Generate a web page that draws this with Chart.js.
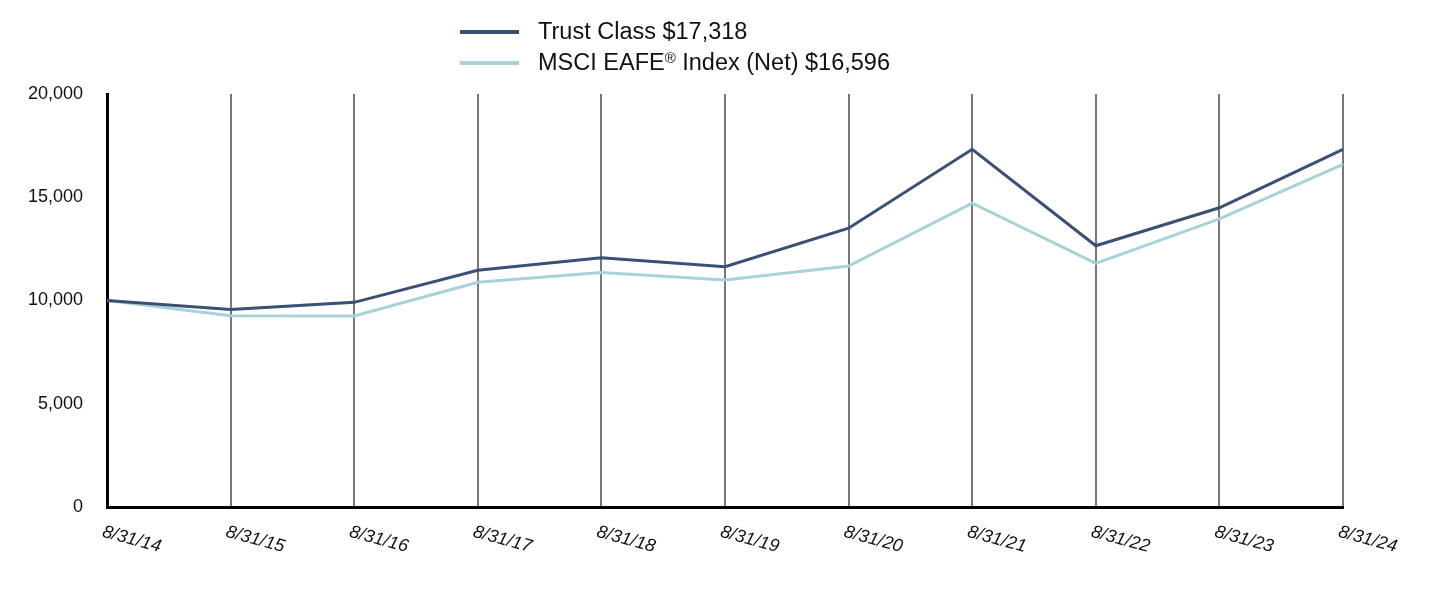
<!DOCTYPE html>
<html>
<head>
<meta charset="utf-8">
<script src="https://cdn.jsdelivr.net/npm/chart.js@4/dist/chart.umd.min.js"></script>
<style>
  html, body { margin: 0; padding: 0; background: #fff; }
  #wrap { position: relative; width: 1432px; height: 596px; }
  #legend { position: absolute; left: 460px; top: 16px; font-family: "Liberation Sans", Arial, sans-serif; font-size: 23.5px; color: #111; }
  .item { display: flex; align-items: center; height: 31px; }
  .swatch { width: 59px; height: 4px; margin-right: 19px; }
  sup { font-size: 15px; vertical-align: 7px; }
</style>
</head>
<body>
<div id="wrap">
  <canvas id="growthChart" width="1432" height="596"></canvas>
  <div id="legend"></div>
</div>
<script>
const dates = ['8/31/14', '8/31/15', '8/31/16', '8/31/17', '8/31/18', '8/31/19', '8/31/20', '8/31/21', '8/31/22', '8/31/23', '8/31/24'];
const trustClass = [10000, 9570, 9910, 11460, 12070, 11640, 13500, 17320, 12650, 14490, 17318];
const msciEafe = [10000, 9260, 9250, 10880, 11350, 10990, 11670, 14710, 11800, 13950, 16596];
const yTicks = [0, 5000, 10000, 15000, 20000];

const navy = '#3a5075';
const teal = '#a8d2d8';
const fontFamily = '"Liberation Sans", Arial, sans-serif';

// Etiquetas do eixo X inclinadas para baixo (o Chart.js só gira no sentido contrário)
const slantedLabels = {
    id: 'slantedLabels',
    afterDraw(chart) {
        const ctx = chart.ctx;
        const xScale = chart.scales.x;
        ctx.save();
        ctx.font = 'italic 18px ' + fontFamily;
        ctx.fillStyle = '#111';
        ctx.textAlign = 'left';
        ctx.textBaseline = 'top';
        dates.forEach((d, i) => {
            const x = xScale.getPixelForValue(i);
            ctx.save();
            ctx.translate(x - 2, chart.chartArea.bottom + 16);
            ctx.rotate(15 * Math.PI / 180);
            ctx.fillText(d, 0, 0);
            ctx.restore();
        });
        ctx.restore();
    }
};

const ctx = document.getElementById('growthChart').getContext('2d');
const chart = new Chart(ctx, {
    type: 'line',
    data: {
        labels: dates,
        datasets: [{
            label: 'Trust Class $17,318',
            data: trustClass,
            borderColor: navy,
            backgroundColor: navy,
            borderWidth: 3,
            pointRadius: 0,
            tension: 0
        }, {
            label: 'MSCI EAFE® Index (Net) $16,596',
            data: msciEafe,
            borderColor: teal,
            backgroundColor: teal,
            borderWidth: 3,
            pointRadius: 0,
            tension: 0
        }]
    },
    options: {
        responsive: false,
        animation: false,
        layout: {
            padding: { top: 94, right: 89, left: 0, bottom: 0 }
        },
        plugins: {
            legend: { display: false },
            tooltip: { enabled: false }
        },
        scales: {
            x: {
                offset: false,
                grid: {
                    color: '#777',
                    lineWidth: 2,
                    drawTicks: false
                },
                border: { color: '#000', width: 3 },
                ticks: { display: false },
                afterFit: function(scale) { scale.height = 89; }
            },
            y: {
                min: 0,
                max: 20000,
                afterBuildTicks: function(scale) {
                    scale.ticks = yTicks.map(v => ({ value: v }));
                },
                grid: { display: false },
                border: { color: '#000', width: 3 },
                ticks: {
                    color: '#111',
                    padding: 16,
                    font: { family: fontFamily, size: 18 },
                    callback: function(value) {
                        return value.toLocaleString('en-US');
                    }
                },
                afterFit: function(scale) { scale.width = 107; }
            }
        }
    },
    plugins: [slantedLabels]
});

// Legenda em HTML, duas linhas
const legend = document.getElementById('legend');
chart.data.datasets.forEach(ds => {
    const row = document.createElement('div');
    row.className = 'item';
    const sw = document.createElement('span');
    sw.className = 'swatch';
    sw.style.background = ds.borderColor;
    const txt = document.createElement('span');
    txt.innerHTML = ds.label.replace('®', '<sup>®</sup>');
    row.appendChild(sw);
    row.appendChild(txt);
    legend.appendChild(row);
});
</script>
</body>
</html>
